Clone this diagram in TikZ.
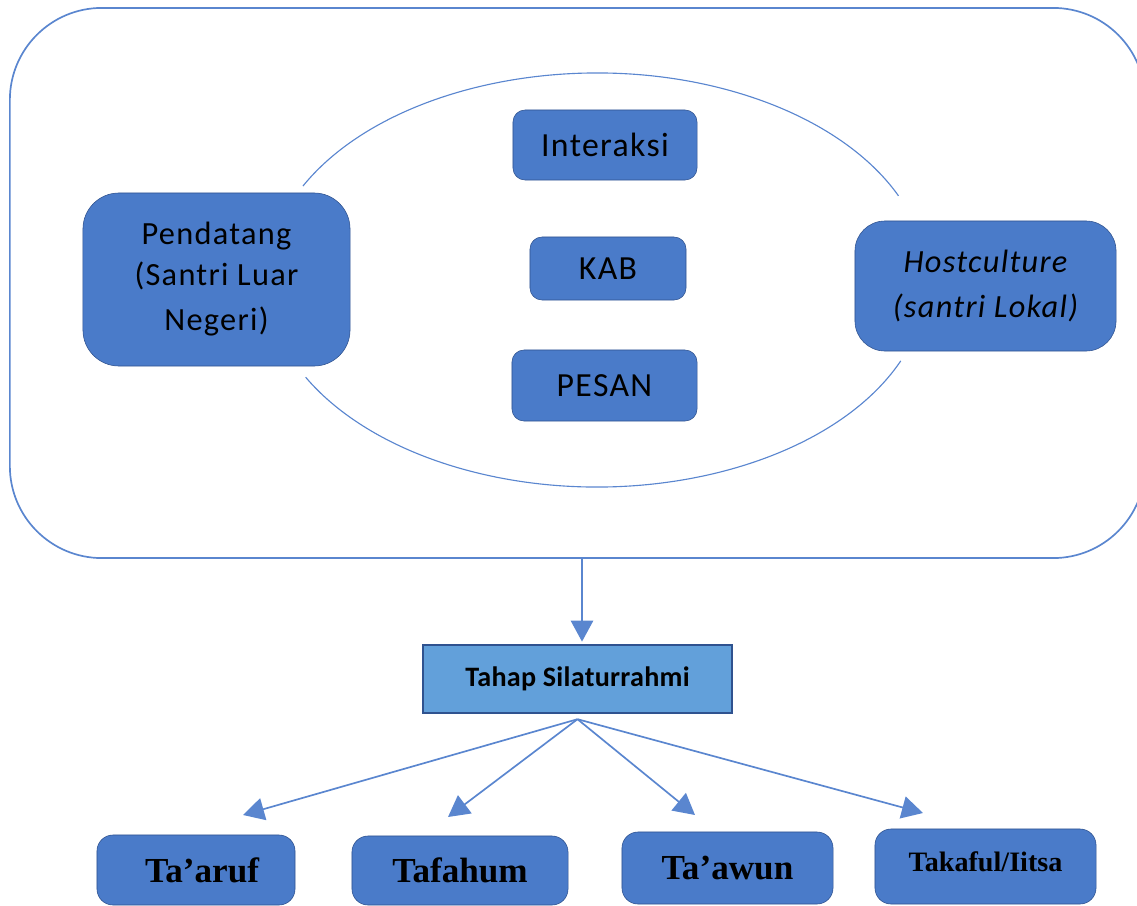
\documentclass[tikz,border=0pt]{standalone}
\usepackage{fontspec}
\usepackage{tikz}
\usetikzlibrary{arrows.meta}
\newfontfamily\calfont[LetterSpace=4]{Carlito}
\newfontfamily\calboldfont[LetterSpace=1]{Carlito}
\newfontfamily\timesfont{Liberation Serif}
\definecolor{boxblue}{HTML}{4A7BC9}
\definecolor{boxedge}{HTML}{2F528F}
\definecolor{lineblue}{HTML}{5A86CF}
\definecolor{stageblue}{HTML}{62A0DA}

\begin{document}
\begin{tikzpicture}[x=0.025cm,y=-0.025cm,
		blok/.style={draw=boxedge,fill=boxblue,rounded corners=0.3cm,align=center,inner sep=2pt},
		tahapbox/.style={blok,rounded corners=0.4cm,font=\timesfont\bfseries\fontsize{25}{28}\selectfont},
		panah/.style={draw=lineblue,line width=1.2pt,-{Triangle[length=15pt,width=16pt]}}]
				\clip (0,0) rectangle (1137,906);
				\useasboundingbox (0,0) rectangle (1137,906);
				% bingkai luar dan busur
				\node[draw=lineblue,line width=1.2pt,rounded corners=2.3cm,minimum width=28.375cm,minimum height=13.75cm] (frame) at (577.5,283) {};
				\draw[lineblue,line width=0.8pt] (597,280) ++(207:330 and 207) arc [start angle=207,end angle=336,x radius=330,y radius=207];
				\draw[lineblue,line width=0.8pt] (597,280) ++(23:330 and 207) arc [start angle=23,end angle=152,x radius=330,y radius=207];
				% kotak atas
				\node[blok,rounded corners=0.9cm,minimum width=6.675cm,minimum height=4.325cm,font=\calfont\fontsize{23}{32}\selectfont] (pendatang) at (216.5,279.5) {\raisebox{-0.1cm}{Pendatang}\\(Santri Luar\\Negeri)};
				\node[blok,minimum width=4.6cm,minimum height=1.75cm,font=\calfont\fontsize{24}{28}\selectfont] (interaksi) at (605,145) {Interaksi};
				\node[blok,minimum width=3.9cm,minimum height=1.575cm,font=\calfont\fontsize{24}{28}\selectfont] (kab) at (608,268.5) {KAB};
				\node[blok,minimum width=4.625cm,minimum height=1.775cm,font=\calfont\fontsize{24}{28}\selectfont] (pesan) at (604.5,385.5) {PESAN};
				\node[blok,rounded corners=0.75cm,minimum width=6.525cm,minimum height=3.25cm,font=\calfont\itshape\fontsize{23}{32}\selectfont] (host) at (985.5,286) {Hostculture\\(santri Lokal)};
				% tahap
				\node[draw=boxedge,fill=stageblue,line width=0.8pt,minimum width=7.725cm,minimum height=1.7cm,font=\calboldfont\bfseries\fontsize{20}{24}\selectfont] (silaturrahmi) at (577.5,679) {Tahap Silaturrahmi};
				\node[tahapbox,minimum width=4.95cm,minimum height=1.75cm] (taaruf) at (196,870) {\hspace{0.3cm}Ta’aruf};
				\node[tahapbox,minimum width=5.4cm,minimum height=1.725cm] (tafahum) at (460,870.5) {Tafahum};
				\node[tahapbox,minimum width=5.275cm,minimum height=1.8cm] (taawun) at (727.5,868) {Ta’awun};
				\node[tahapbox,minimum width=5.525cm,minimum height=1.875cm,font=\timesfont\bfseries\fontsize{20}{24}\selectfont] (takaful) at (985.5,866.5) {\raisebox{0.25cm}{Takaful/Iitsa}};
				% panah
				\coordinate (c1) at (243,815);
				\coordinate (c2) at (448,817);
				\coordinate (c3) at (695,815);
				\coordinate (c4) at (923,813);
				\draw[panah] (frame.south -| 582,0) -- ([yshift=2pt]silaturrahmi.north -| 582,0);
				\foreach \t in {c1,c2,c3,c4}
					\draw[panah] ([yshift=-4pt]silaturrahmi.south) -- (\t);
			\end{tikzpicture}
\end{document}
